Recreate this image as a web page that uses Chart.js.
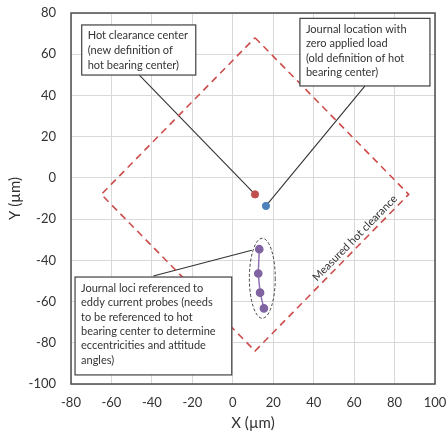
<!DOCTYPE html>
<html>
<head>
<meta charset="utf-8">
<script src="https://cdn.jsdelivr.net/npm/chart.js@4.4.1/dist/chart.umd.min.js"></script>
<style>
  body { margin: 0; background: #fff; }
  #wrap { width: 446px; height: 442px; }
</style>
</head>
<body>
<div id="wrap"><canvas id="chart" width="446" height="442"></canvas></div>
<script>
// values (µm)
const clearanceX = [11, 87, 11, -65, 11];
const clearanceY = [68, -8, -84, -8, 68];
const hotCenterX = [11];
const hotCenterY = [-8];
const zeroLoadX = [16.4];
const zeroLoadY = [-13.6];
const lociX = [13.1, 12.6, 13.5, 15.4];
const lociY = [-34.6, -46.4, -55.7, -63.3];
const xTicks = [-80, -60, -40, -20, 0, 20, 40, 60, 80, 100];
const yTicks = [-100, -80, -60, -40, -20, 0, 20, 40, 60, 80];

const toPoints = (xs, ys) => xs.map((x, i) => ({x: x, y: ys[i]}));

// callouts, in data units
const notes = [
  {box: [-74.7, 74.2, -18.3, 49.9], lh: 15, first: 10.8,
   lines: ['Hot clearance center', '(new definition of', 'hot bearing center)'],
   from: [-46.2, 49.9], to: [11, -8]},
  {box: [33.2, 77.4, 97.5, 44.6], lh: 14.4, first: 10.8,
   lines: ['Journal location with', 'zero applied load', '(old definition of hot', 'bearing center)'],
   from: [65.4, 44.6], to: [16.4, -13.6]},
  {box: [-78, -48.1, -0.5, -95.6], lh: 14.4, first: 11.3,
   lines: ['Journal loci referenced to', 'eddy current probes (needs', 'to be referenced to hot',
           'bearing center to determine', 'eccentricities and attitude', 'angles)'],
   from: [-39.3, -47.6], to: [9.4, -35.1]}
];

const overlay = {
  id: 'overlay',
  beforeDatasetsDraw(chart) {
    const ctx = chart.ctx, sx = chart.scales.x, sy = chart.scales.y;
    ctx.save();
    // leader lines
    ctx.strokeStyle = '#333';
    ctx.lineWidth = 1.1;
    notes.forEach(n => {
      ctx.beginPath();
      ctx.moveTo(sx.getPixelForValue(n.from[0]), sy.getPixelForValue(n.from[1]));
      ctx.lineTo(sx.getPixelForValue(n.to[0]), sy.getPixelForValue(n.to[1]));
      ctx.stroke();
    });
    // ellipse round the loci
    const cx = sx.getPixelForValue(14.6), cy = sy.getPixelForValue(-48.7);
    const rx = sx.getPixelForValue(14.6 + 6.4) - cx, ry = cy - sy.getPixelForValue(-48.7 + 19.4);
    ctx.setLineDash([3, 2]);
    ctx.strokeStyle = '#404040';
    ctx.lineWidth = 1;
    ctx.beginPath();
    ctx.ellipse(cx, cy, rx, ry, 0, 0, Math.PI * 2);
    ctx.stroke();
    ctx.restore();
  },
  afterDatasetsDraw(chart) {
    const ctx = chart.ctx, sx = chart.scales.x, sy = chart.scales.y, a = chart.chartArea;
    ctx.save();
    ctx.strokeStyle = '#4d4d4d';
    ctx.lineWidth = 1.5;
    ctx.strokeRect(a.left, a.top, a.right - a.left, a.bottom - a.top);

    ctx.font = '11px Lato';
    ctx.textBaseline = 'middle';
    notes.forEach(n => {
      const l = sx.getPixelForValue(n.box[0]), t = sy.getPixelForValue(n.box[1]);
      const r = sx.getPixelForValue(n.box[2]), b = sy.getPixelForValue(n.box[3]);
      ctx.fillStyle = '#fff';
      ctx.fillRect(l, t, r - l, b - t);
      ctx.strokeStyle = '#404040';
      ctx.lineWidth = 1.2;
      ctx.strokeRect(l, t, r - l, b - t);
      ctx.fillStyle = '#333';
      n.lines.forEach((s, i) => ctx.fillText(s, l + 6, t + n.first + i * n.lh));
    });

    // label along the clearance edge
    ctx.translate(sx.getPixelForValue(60.4), sy.getPixelForValue(-29.2));
    ctx.rotate(-45.5 * Math.PI / 180);
    ctx.font = '11px Lato';
    ctx.textAlign = 'center';
    ctx.fillStyle = '#333';
    ctx.fillText('Measured hot clearance', 0, 0);
    ctx.restore();
  }
};

new Chart(document.getElementById('chart'), {
  type: 'scatter',
  data: {
    datasets: [
      {
        data: toPoints(clearanceX, clearanceY),
        showLine: true,
        borderColor: '#cc4c4a',
        borderWidth: 1.6,
        borderDash: [7, 5],
        pointRadius: 0
      },
      {
        data: toPoints(lociX, lociY),
        showLine: true,
        borderColor: '#8f73b5',
        borderWidth: 1.5,
        backgroundColor: '#8064A2',
        pointBorderColor: '#8064A2',
        pointRadius: 3.6
      },
      {
        data: toPoints(hotCenterX, hotCenterY),
        backgroundColor: '#C0504D',
        borderColor: '#C0504D',
        pointRadius: 3.6
      },
      {
        data: toPoints(zeroLoadX, zeroLoadY),
        backgroundColor: '#4F81BD',
        borderColor: '#4F81BD',
        pointRadius: 3.6
      }
    ]
  },
  options: {
    responsive: false,
    animation: false,
    layout: { padding: { left: 0, top: 13, right: 11, bottom: 0 } },
    plugins: { legend: { display: false }, tooltip: { enabled: false } },
    scales: {
      x: {
        min: xTicks[0], max: xTicks[xTicks.length - 1],
        afterBuildTicks: s => { s.ticks = xTicks.map(v => ({value: v})); },
        afterFit: s => { s.height = 58; s.paddingLeft = 0; s.paddingRight = 0; },
        grid: { color: '#d9d9d9', drawTicks: false },
        border: { display: false },
        ticks: { color: '#333', padding: 11, maxRotation: 0, font: { family: 'Lato', size: 13 } },
        title: { display: true, text: 'X (µm)', color: '#333', padding: { top: 0, bottom: 10 },
                 font: { family: 'Lato', size: 15 } }
      },
      y: {
        min: yTicks[0], max: yTicks[yTicks.length - 1],
        afterBuildTicks: s => { s.ticks = yTicks.map(v => ({value: v})); },
        afterFit: s => { s.width = 71; s.paddingTop = 0; s.paddingBottom = 0; },
        grid: { color: '#d9d9d9', drawTicks: false },
        border: { display: false },
        ticks: { color: '#333', padding: 15, font: { family: 'Lato', size: 13 } },
        title: { display: true, text: 'Y (µm)', color: '#333', padding: { top: 6, bottom: 0 },
                 font: { family: 'Lato', size: 15 } }
      }
    }
  },
  plugins: [overlay]
});
</script>
</body>
</html>
